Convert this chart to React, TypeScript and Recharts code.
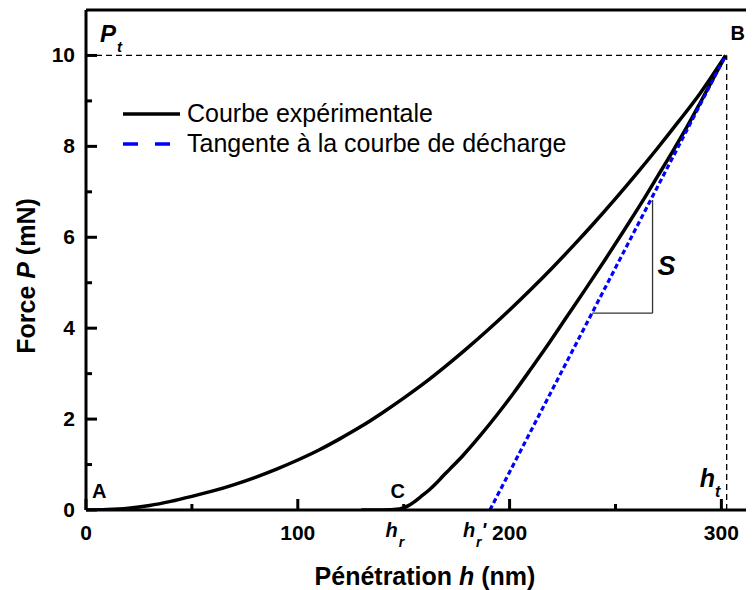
import { ComposedChart, Line, XAxis, YAxis, ReferenceLine, ReferenceDot } from 'recharts'

const FONT = '"Liberation Sans", Arial, Helvetica, sans-serif'

// courbe de charge
const loadH = [0, 10, 20, 30, 40, 50, 60, 70, 80, 90, 100, 110, 120, 130, 140, 150, 160, 170, 180, 190, 200, 210, 220, 230, 240, 250, 260, 270, 280, 290, 302]
const loadP = [0, 0.01, 0.04, 0.1, 0.19, 0.3, 0.42, 0.56, 0.72, 0.9, 1.1, 1.32, 1.57, 1.84, 2.14, 2.46, 2.8, 3.17, 3.56, 3.97, 4.4, 4.85, 5.32, 5.81, 6.32, 6.85, 7.4, 7.97, 8.56, 9.17, 10]

// courbe de décharge
const unloadH = [130, 140, 148, 152, 155, 158, 162, 165, 168, 172, 178, 186, 194, 202, 210, 218, 227, 236, 245, 254, 263, 270, 277, 284, 290, 296, 302]
const unloadP = [0, 0, 0.02, 0.09, 0.18, 0.29, 0.44, 0.57, 0.72, 0.91, 1.2, 1.63, 2.09, 2.58, 3.1, 3.63, 4.25, 4.87, 5.5, 6.15, 6.81, 7.35, 7.89, 8.45, 8.96, 9.48, 10]

// tangente
const tangentH = [190.7, 302]
const tangentP = [0, 10]

// triangle S
const sH = [239, 267.5]
const sP = [4.33, 6.82]

const hMax = 302.5
const pMax = 10
const hr = 148
const hrPrime = 190.7

const xTicks = [0, 50, 100, 150, 200, 250, 300]
const xLabels = [0, 100, 200, 300]
const yTicks = [0, 1, 2, 3, 4, 5, 6, 7, 8, 9, 10]
const yLabels = [0, 2, 4, 6, 8, 10]
const topTicks = [32, 64.5, 97, 129, 161, 193.5, 226, 258, 290]

const rows = (hs: number[], ps: number[]) => hs.map((h, i) => ({ h, p: ps[i] }))
const loadData = rows(loadH, loadP)
const unloadData = rows(unloadH, unloadP)
const tangentData = rows(tangentH, tangentP)

function XTick(props: any) {
  const { x, y, payload } = props
  const major = xLabels.includes(payload.value)
  return (
    <g>
      <line x1={x} x2={x} y1={y} y2={y - (major ? 11 : 6)} stroke="#000" strokeWidth={3} />
      {major && (
        <text x={x} y={y + 30} textAnchor="middle" fontFamily={FONT} fontWeight="bold" fontSize={21} fill="#000">
          {payload.value}
        </text>
      )}
    </g>
  )
}

function YTick(props: any) {
  const { x, y, payload } = props
  const major = yLabels.includes(payload.value)
  return (
    <g>
      <line x1={x} x2={x + (major ? 11 : 6)} y1={y} y2={y} stroke="#000" strokeWidth={3} />
      {major && (
        <text x={x - 11} y={y + 7} textAnchor="end" fontFamily={FONT} fontWeight="bold" fontSize={21} fill="#000">
          {payload.value}
        </text>
      )}
    </g>
  )
}

function TopTick(props: any) {
  const { x, y } = props
  return <line x1={x} x2={x} y1={y} y2={y + 4} stroke="#000" strokeWidth={2} />
}

const bold = { fontFamily: FONT, fontWeight: 'bold' as const, fill: '#000' }

export default function App() {
  return (
    <div style={{ position: 'relative', width: 746, height: 582 }}>
      <ComposedChart width={746} height={582} margin={{ top: 0, right: 0, bottom: 0, left: 0 }} style={{ overflow: 'visible' }}>
        <XAxis
          dataKey="h"
          type="number"
          domain={[0, 315.4]}
          ticks={xTicks}
          interval={0}
          allowDataOverflow
          height={80}
          tickSize={0}
          tickMargin={0}
          tickLine={false}
          tick={<XTick />}
          axisLine={{ stroke: '#000', strokeWidth: 3 }}
          label={(p: any) => {
            const vb = p.viewBox || p
            return (
              <text x={vb.x + vb.width / 2 + 5} y={vb.y + 75} textAnchor="middle" fontSize={25} {...bold}>
                Pénétration <tspan fontStyle="italic">h</tspan> (nm)
              </text>
            )
          }}
        />
        <XAxis
          xAxisId="top"
          orientation="top"
          type="number"
          domain={[0, 315.4]}
          ticks={topTicks}
          interval={0}
          height={2}
          tickSize={0}
          tickMargin={0}
          tickLine={false}
          tick={<TopTick />}
          axisLine={{ stroke: '#000', strokeWidth: 3 }}
        />
        <YAxis
          type="number"
          domain={[0, 11]}
          ticks={yTicks}
          interval={0}
          allowDataOverflow
          width={78}
          tickSize={0}
          tickMargin={0}
          tickLine={false}
          tick={<YTick />}
          axisLine={{ stroke: '#000', strokeWidth: 3 }}
          label={(p: any) => {
            const vb = p.viewBox || p
            const cy = vb.y + vb.height / 2 + 16
            return (
              <text x={27} y={cy} transform={`rotate(-90 27 ${cy})`} textAnchor="middle" fontSize={25} {...bold}>
                Force <tspan fontStyle="italic">P</tspan> (mN)
              </text>
            )
          }}
        />

        <ReferenceLine segment={[{ x: 0, y: pMax }, { x: hMax, y: pMax }]} stroke="#000" strokeWidth={1.3} strokeDasharray="6 4" />
        <ReferenceLine segment={[{ x: hMax, y: 0 }, { x: hMax, y: pMax }]} stroke="#000" strokeWidth={1.3} strokeDasharray="6 4" />
        <ReferenceLine segment={[{ x: sH[0], y: sP[0] }, { x: sH[1], y: sP[0] }]} stroke="#333" strokeWidth={1.3} />
        <ReferenceLine segment={[{ x: sH[1], y: sP[0] }, { x: sH[1], y: sP[1] }]} stroke="#333" strokeWidth={1.3} />

        <Line data={loadData} dataKey="p" type="monotone" stroke="#000" strokeWidth={3.5} dot={false} activeDot={false} isAnimationActive={false} />
        <Line data={unloadData} dataKey="p" type="monotone" stroke="#000" strokeWidth={3.5} dot={false} activeDot={false} isAnimationActive={false} />
        <Line data={tangentData} dataKey="p" type="linear" stroke="#0000ff" strokeWidth={3.2} strokeDasharray="5 3" dot={false} activeDot={false} isAnimationActive={false} />

        <ReferenceDot x={0} y={0} r={1} shape={(p: any) => <text x={p.cx + 6} y={p.cy - 12} fontSize={20} {...bold}>A</text>} />
        <ReferenceDot x={302} y={pMax} r={1} shape={(p: any) => <text x={p.cx + 5} y={p.cy - 15} fontSize={20} {...bold}>B</text>} />
        <ReferenceDot x={hr} y={0} r={1} shape={(p: any) => <text x={p.cx - 9} y={p.cy - 12} fontSize={20} {...bold}>C</text>} />
        <ReferenceDot x={0} y={pMax} r={1} shape={(p: any) => (
          <text x={p.cx + 14} y={p.cy - 13} fontSize={24} fontStyle="italic" {...bold}>
            P<tspan fontSize={15} dx={1} dy={10}>t</tspan>
          </text>
        )} />
        <ReferenceDot x={hMax} y={0} r={1} shape={(p: any) => (
          <text x={p.cx - 27} y={p.cy - 23} fontSize={25} fontStyle="italic" {...bold}>
            h<tspan fontSize={16} dx={0} dy={10}>t</tspan>
          </text>
        )} />
        <ReferenceDot x={hr} y={0} r={1} shape={(p: any) => (
          <text x={p.cx - 14} y={p.cy + 27} fontSize={20} fontStyle="italic" {...bold}>
            h<tspan fontSize={14} dx={1} dy={10}>r</tspan>
          </text>
        )} />
        <ReferenceDot x={hrPrime} y={0} r={1} shape={(p: any) => (
          <text x={p.cx - 27} y={p.cy + 27} fontSize={20} fontStyle="italic" {...bold}>
            h<tspan fontSize={14} dx={1} dy={10}>r</tspan><tspan dy={-10}>'</tspan>
          </text>
        )} />
        <ReferenceDot x={sH[1]} y={(sP[0] + sP[1]) / 2} r={1} shape={(p: any) => (
          <text x={p.cx + 5} y={p.cy + 18} fontSize={27} fontStyle="italic" {...bold}>S</text>
        )} />
      </ComposedChart>

      <svg width={746} height={582} style={{ position: 'absolute', left: 0, top: 0, pointerEvents: 'none' }}>
        <line x1={115} x2={172} y1={106} y2={106} stroke="#000" strokeWidth={3.5} />
        <text x={179} y={114} fontFamily={FONT} fontSize={25} fill="#000">Courbe expérimentale</text>
        <line x1={115} x2={164} y1={136} y2={136} stroke="#0000ff" strokeWidth={3.5} strokeDasharray="15 17" />
        <text x={179} y={144} fontFamily={FONT} fontSize={25} fill="#000">Tangente à la courbe de décharge</text>
      </svg>
    </div>
  )
}
